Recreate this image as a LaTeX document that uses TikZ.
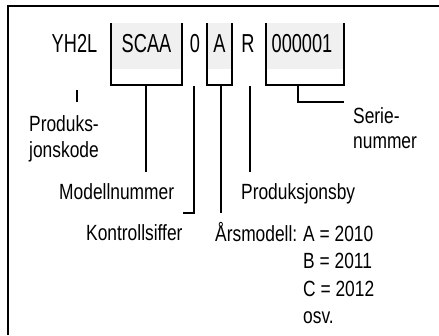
\documentclass[tikz,border=0pt]{standalone}
\usepackage{fontspec}
\setmainfont{Liberation Sans}
\newfontfamily\boxf{Liberation Sans}[FakeStretch=0.7]
\newfontfamily\labf{Liberation Sans}[FakeStretch=0.79]
\begin{document}
\begin{tikzpicture}[x=1pt,y=-1pt,
  bx/.style={inner sep=0pt, anchor=base, font=\boxf\fontsize{26}{30}\selectfont},
  lb/.style={inner sep=0pt, anchor=base west, font=\labf\fontsize{22}{26}\selectfont},
  ln/.style={line width=2.6pt},
  shade/.style={fill=black!6}]
\useasboundingbox (0,0) rectangle (439,335);
% frame
\draw[line width=2.4pt] (439,6) -- (8,6) -- (8,335);
% shaded boxes
\fill[shade] (111,23) rectangle (182,69);
\fill[shade] (207,23) rectangle (232,69);
\fill[shade] (266,23) rectangle (344,69);
\draw[ln] (111,23) -- (111,85) -- (182,85) -- (182,23);
\draw[ln] (207,23) -- (207,85) -- (232,85) -- (232,23);
\draw[ln] (266,23) -- (266,85) -- (344,85) -- (344,23);
% code parts
\node[bx] (yh) at (74.5,52) {YH2L};
\node[bx] (scaa) at (146.5,52) {SCAA};
\node[bx] (zero) at (195,52) {0};
\node[bx] (a) at (219.5,52) {A};
\node[bx] (r) at (248,52) {R};
\node[bx] (ser) at (302,52) {000001};
% labels
\node[lb] (pk1) at (29,131) {Produks-};
\node[lb] (pk2) at (29,157) {jonskode};
\node[lb] (mn) at (59,199) {Modellnummer};
\node[lb] (ks) at (86,240) {Kontrollsiffer};
\node[lb] (pb) at (241,199) {Produksjonsby};
\node[lb] (sn1) at (353,123) {Serie-};
\node[lb] (sn2) at (353,148) {nummer};
\node[lb] (am) at (215,241) {Årsmodell:};
\node[lb] (y1) at (303,241) {A = 2010};
\node[lb] (y2) at (303,268) {B = 2011};
\node[lb] (y3) at (303,296) {C = 2012};
\node[lb] (y4) at (303,323) {osv.};
% connectors
\coordinate (pkA) at (77,90);
\coordinate (pkB) at (77,102);
\draw[ln] (pkA) -- (pkB);
\coordinate (mnA) at (146,85);
\coordinate (mnB) at (146,172);
\draw[ln] (mnA) -- (mnB);
\coordinate (ksA) at (194,86);
\coordinate (ksB) at (194,213);
\coordinate (ksC) at (183,213);
\draw[ln] (ksA) -- (ksB) -- (ksC);
\coordinate (amA) at (221,85);
\coordinate (amB) at (221,213);
\draw[ln] (amA) -- (amB);
\coordinate (pbA) at (250,86);
\coordinate (pbB) at (250,172);
\draw[ln] (pbA) -- (pbB);
\coordinate (snA) at (298,85);
\coordinate (snB) at (298,102);
\coordinate (snC) at (344,102);
\draw[ln] (snA) -- (snB) -- (snC);
\end{tikzpicture}
\end{document}
